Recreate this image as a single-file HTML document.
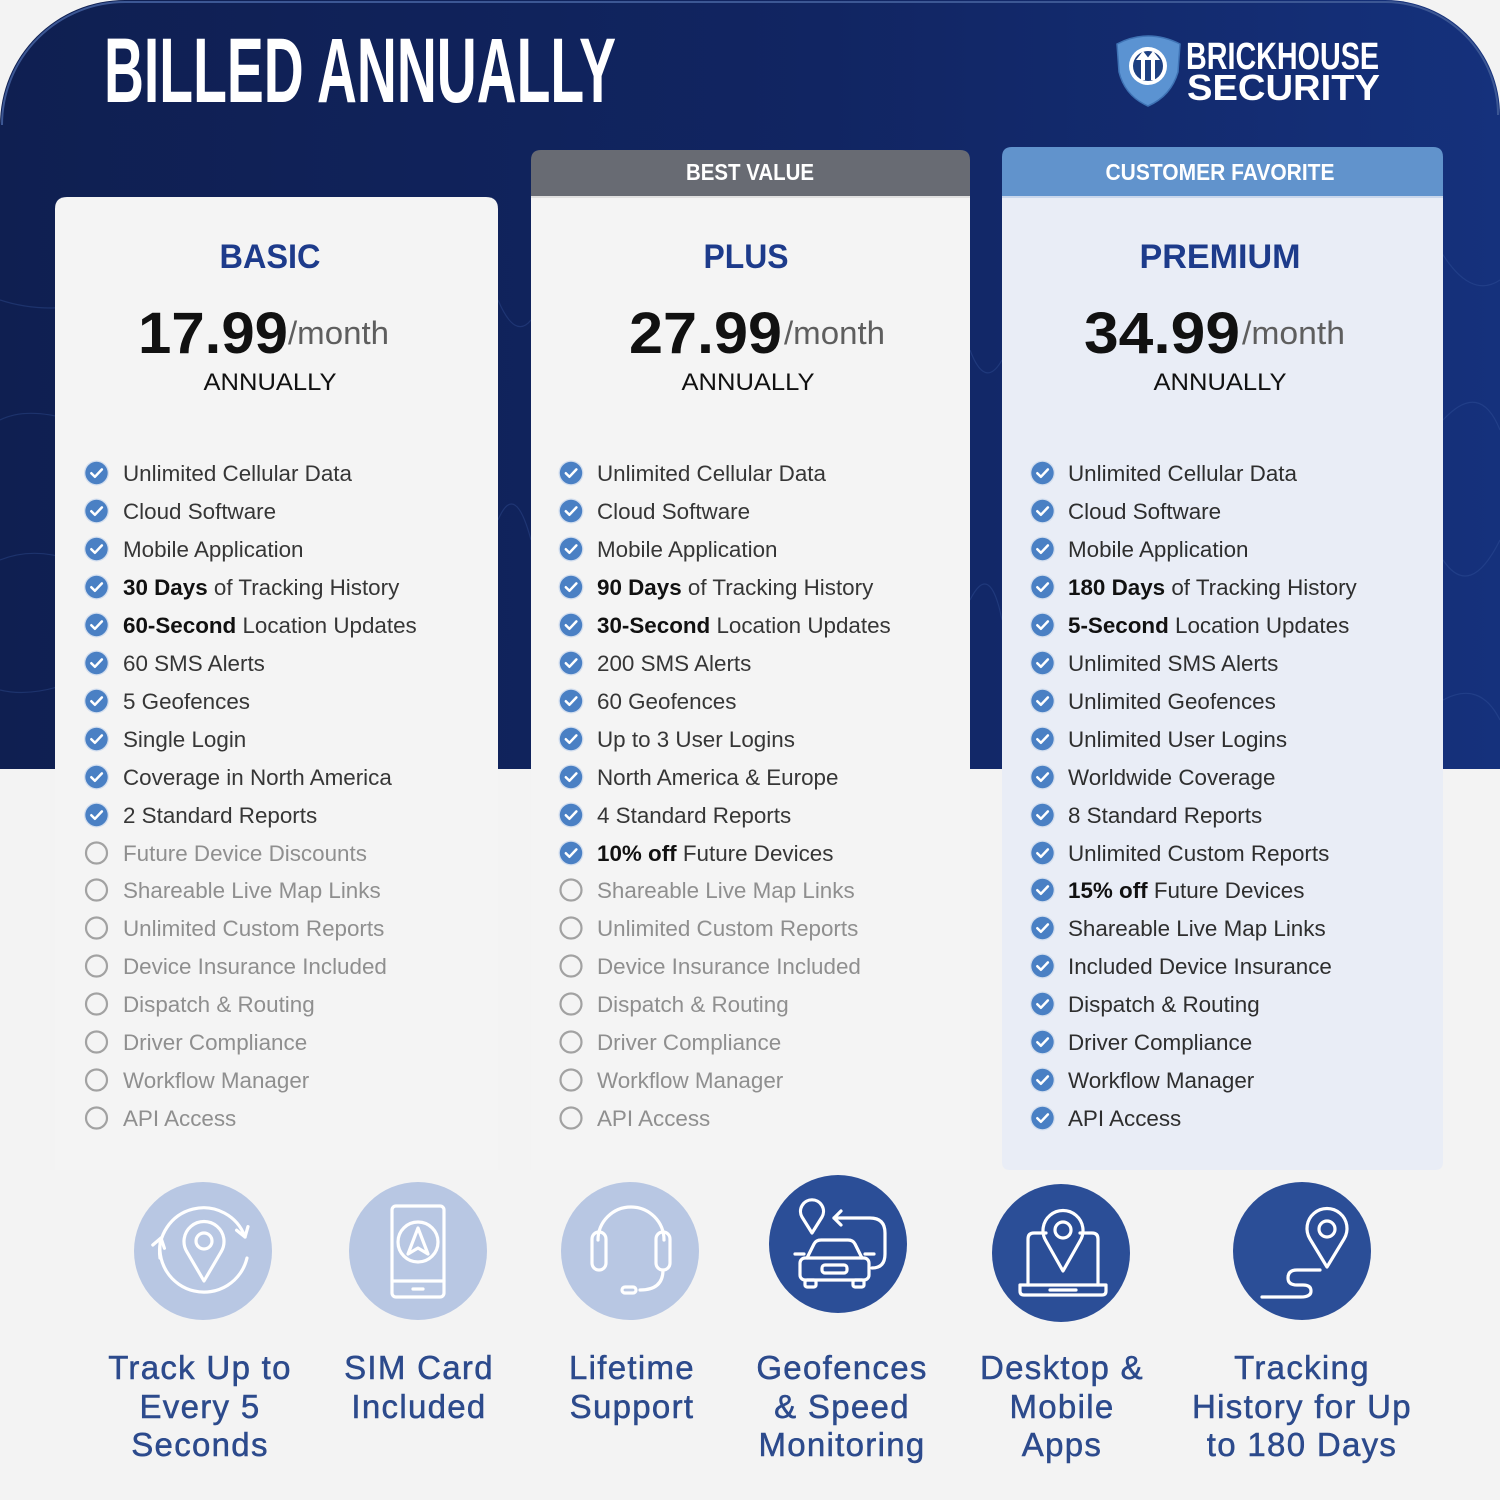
<!DOCTYPE html>
<html><head><meta charset="utf-8"><style>
html,body{margin:0;padding:0;background:#f3f3f3;}
svg{display:block;}
text{font-family:"Liberation Sans",Arial,sans-serif;}
</style></head><body>
<svg width="1500" height="1500" viewBox="0 0 1500 1500" xmlns="http://www.w3.org/2000/svg">
<defs>
<linearGradient id="navy" x1="0" y1="0" x2="1" y2="0">
<stop offset="0" stop-color="#0f1f51"/>
<stop offset="0.55" stop-color="#112562"/>
<stop offset="1" stop-color="#15317c"/>
</linearGradient>
<g id="chk"><circle cx="0" cy="0" r="12.5" fill="#d3deee"/><circle cx="0" cy="0" r="11.2" fill="#4a80c4"/><path d="M-5.2,0.2 L-1.6,3.8 L5.4,-3.6" fill="none" stroke="#fff" stroke-width="2.5" stroke-linecap="round" stroke-linejoin="round"/></g>
<g id="emp"><circle cx="0" cy="0" r="10.5" fill="none" stroke="#a2a2a2" stroke-width="2.2"/></g>
</defs>

<rect width="1500" height="1500" fill="#f3f3f3"/>
<path d="M0,125 A125,125 0 0 1 125,0 L1385,0 A115,115 0 0 1 1500,115 L1500,769 L0,769 Z" fill="url(#navy)"/>
<path d="M2,125 A123,123 0 0 1 125,2 L1385,2 A113,113 0 0 1 1498,115" fill="none" stroke="#3c5794" stroke-width="2"/>
<g fill="none" stroke="#3a5aa0" stroke-width="1.2" opacity="0.35">
<path d="M0,300 Q60,320 140,290 T300,320"/>
<path d="M0,420 Q40,400 120,440 T260,420"/>
<path d="M0,560 Q50,540 110,580 T240,560"/>
<path d="M0,690 Q40,700 100,670 T220,700"/>
<path d="M1440,250 Q1470,300 1500,280"/>
<path d="M1443,420 Q1480,380 1500,430"/>
<path d="M1443,560 Q1470,600 1500,540"/>
<path d="M1443,700 Q1480,680 1500,720"/>
<path d="M498,300 Q515,340 531,320"/>
<path d="M498,520 Q515,480 531,540"/>
<path d="M970,350 Q985,390 1002,360"/>
<path d="M970,600 Q990,560 1002,620"/>
</g>

<!-- Title -->
<text x="104" y="102" font-size="92" font-weight="bold" fill="#ffffff" textLength="512" lengthAdjust="spacingAndGlyphs">BILLED ANNUALLY</text>

<!-- Logo -->
<path d="M1117,44 Q1148,28 1180,44 L1178,72 Q1171,96 1148,106 Q1125,96 1119,72 Z" fill="#5b93d2" stroke="#3f73b5" stroke-width="1.5"/>
<circle cx="1148" cy="66" r="19" fill="#ffffff"/>
<circle cx="1148" cy="66" r="15" fill="#1d3f80"/>
<path d="M1141,80 L1141,60 L1136,60 L1143,51 L1150,60 L1145,60 L1145,80 Z M1151,80 L1151,60 L1146,60 L1153,51 L1160,60 L1155,60 L1155,80 Z" fill="#ffffff"/>
<text x="1186" y="69" font-size="38" font-weight="bold" fill="#ffffff" textLength="193" lengthAdjust="spacingAndGlyphs">BRICKHOUSE</text>
<text x="1187" y="100" font-size="36" font-weight="bold" fill="#ffffff" textLength="193" lengthAdjust="spacingAndGlyphs">SECURITY</text>

<!-- Cards -->
<path d="M55,209 Q55,197 67,197 L486,197 Q498,197 498,209 L498,1170 L55,1170 Z" fill="#f4f4f4"/>
<path d="M531,160 Q531,150 541,150 L960,150 Q970,150 970,160 L970,197 L531,197 Z" fill="#686b73"/>
<rect x="531" y="197" width="439" height="973" fill="#f4f4f4"/>
<line x1="531" y1="197" x2="970" y2="197" stroke="#e0e0e0" stroke-width="2"/>
<path d="M1002,157 Q1002,147 1012,147 L1433,147 Q1443,147 1443,157 L1443,197 L1002,197 Z" fill="#6193cc"/>
<path d="M1002,197 L1443,197 L1443,1162 Q1443,1170 1435,1170 L1010,1170 Q1002,1170 1002,1162 Z" fill="#e9edf6"/>
<line x1="1002" y1="197" x2="1443" y2="197" stroke="#c9d7ec" stroke-width="2"/>

<text x="750" y="180" font-size="23" font-weight="bold" fill="#ffffff" text-anchor="middle" textLength="128" lengthAdjust="spacingAndGlyphs">BEST VALUE</text>
<text x="1220" y="180" font-size="23" font-weight="bold" fill="#ffffff" text-anchor="middle" textLength="229" lengthAdjust="spacingAndGlyphs">CUSTOMER FAVORITE</text>

<!-- Plan names -->
<g font-size="34" font-weight="bold" fill="#1d3b8b" text-anchor="middle">
<text x="270" y="268" textLength="101" lengthAdjust="spacingAndGlyphs">BASIC</text>
<text x="746" y="268" textLength="85" lengthAdjust="spacingAndGlyphs">PLUS</text>
<text x="1220" y="268" textLength="161" lengthAdjust="spacingAndGlyphs">PREMIUM</text>
</g>

<!-- Prices -->
<g font-size="58" font-weight="bold" fill="#111">
<text x="138" y="353" textLength="150" lengthAdjust="spacingAndGlyphs">17.99</text>
<text x="629" y="353" textLength="153" lengthAdjust="spacingAndGlyphs">27.99</text>
<text x="1084" y="353" textLength="156" lengthAdjust="spacingAndGlyphs">34.99</text>
</g>
<g font-size="32" fill="#5e5e5e">
<text x="288" y="344" textLength="101" lengthAdjust="spacingAndGlyphs">/month</text>
<text x="784" y="344" textLength="101" lengthAdjust="spacingAndGlyphs">/month</text>
<text x="1242" y="344" textLength="103" lengthAdjust="spacingAndGlyphs">/month</text>
</g>
<g font-size="24" fill="#111" text-anchor="middle">
<text x="270" y="390" textLength="133" lengthAdjust="spacingAndGlyphs">ANNUALLY</text>
<text x="748" y="390" textLength="133" lengthAdjust="spacingAndGlyphs">ANNUALLY</text>
<text x="1220" y="390" textLength="133" lengthAdjust="spacingAndGlyphs">ANNUALLY</text>
</g>

<!-- Icons for lists -->
<g>
<use href="#chk" x="96.5" y="473"/><use href="#chk" x="96.5" y="511"/><use href="#chk" x="96.5" y="549"/><use href="#chk" x="96.5" y="587"/><use href="#chk" x="96.5" y="625"/><use href="#chk" x="96.5" y="663"/><use href="#chk" x="96.5" y="701"/><use href="#chk" x="96.5" y="739"/><use href="#chk" x="96.5" y="777"/><use href="#chk" x="96.5" y="815"/>
<use href="#emp" x="96.5" y="853"/><use href="#emp" x="96.5" y="890"/><use href="#emp" x="96.5" y="928"/><use href="#emp" x="96.5" y="966"/><use href="#emp" x="96.5" y="1004"/><use href="#emp" x="96.5" y="1042"/><use href="#emp" x="96.5" y="1080"/><use href="#emp" x="96.5" y="1118"/>

<use href="#chk" x="571" y="473"/><use href="#chk" x="571" y="511"/><use href="#chk" x="571" y="549"/><use href="#chk" x="571" y="587"/><use href="#chk" x="571" y="625"/><use href="#chk" x="571" y="663"/><use href="#chk" x="571" y="701"/><use href="#chk" x="571" y="739"/><use href="#chk" x="571" y="777"/><use href="#chk" x="571" y="815"/><use href="#chk" x="571" y="853"/>
<use href="#emp" x="571" y="890"/><use href="#emp" x="571" y="928"/><use href="#emp" x="571" y="966"/><use href="#emp" x="571" y="1004"/><use href="#emp" x="571" y="1042"/><use href="#emp" x="571" y="1080"/><use href="#emp" x="571" y="1118"/>

<use href="#chk" x="1042.5" y="473"/><use href="#chk" x="1042.5" y="511"/><use href="#chk" x="1042.5" y="549"/><use href="#chk" x="1042.5" y="587"/><use href="#chk" x="1042.5" y="625"/><use href="#chk" x="1042.5" y="663"/><use href="#chk" x="1042.5" y="701"/><use href="#chk" x="1042.5" y="739"/><use href="#chk" x="1042.5" y="777"/><use href="#chk" x="1042.5" y="815"/><use href="#chk" x="1042.5" y="853"/><use href="#chk" x="1042.5" y="890"/><use href="#chk" x="1042.5" y="928"/><use href="#chk" x="1042.5" y="966"/><use href="#chk" x="1042.5" y="1004"/><use href="#chk" x="1042.5" y="1042"/><use href="#chk" x="1042.5" y="1080"/><use href="#chk" x="1042.5" y="1118"/>
</g>

<!-- Basic list -->
<g font-size="22.4" fill="#363636">
<text x="123" y="481">Unlimited Cellular Data</text>
<text x="123" y="519">Cloud Software</text>
<text x="123" y="557">Mobile Application</text>
<text x="123" y="595"><tspan font-weight="bold" fill="#111">30 Days</tspan> of Tracking History</text>
<text x="123" y="633"><tspan font-weight="bold" fill="#111">60-Second</tspan> Location Updates</text>
<text x="123" y="671">60 SMS Alerts</text>
<text x="123" y="709">5 Geofences</text>
<text x="123" y="747">Single Login</text>
<text x="123" y="785">Coverage in North America</text>
<text x="123" y="823">2 Standard Reports</text>
</g>
<g font-size="22.4" fill="#8f8f8f">
<text x="123" y="861">Future Device Discounts</text>
<text x="123" y="898">Shareable Live Map Links</text>
<text x="123" y="936">Unlimited Custom Reports</text>
<text x="123" y="974">Device Insurance Included</text>
<text x="123" y="1012">Dispatch &amp; Routing</text>
<text x="123" y="1050">Driver Compliance</text>
<text x="123" y="1088">Workflow Manager</text>
<text x="123" y="1126">API Access</text>
</g>

<!-- Plus list -->
<g font-size="22.4" fill="#363636">
<text x="597" y="481">Unlimited Cellular Data</text>
<text x="597" y="519">Cloud Software</text>
<text x="597" y="557">Mobile Application</text>
<text x="597" y="595"><tspan font-weight="bold" fill="#111">90 Days</tspan> of Tracking History</text>
<text x="597" y="633"><tspan font-weight="bold" fill="#111">30-Second</tspan> Location Updates</text>
<text x="597" y="671">200 SMS Alerts</text>
<text x="597" y="709">60 Geofences</text>
<text x="597" y="747">Up to 3 User Logins</text>
<text x="597" y="785">North America &amp; Europe</text>
<text x="597" y="823">4 Standard Reports</text>
<text x="597" y="861"><tspan font-weight="bold" fill="#111">10% off</tspan> Future Devices</text>
</g>
<g font-size="22.4" fill="#8f8f8f">
<text x="597" y="898">Shareable Live Map Links</text>
<text x="597" y="936">Unlimited Custom Reports</text>
<text x="597" y="974">Device Insurance Included</text>
<text x="597" y="1012">Dispatch &amp; Routing</text>
<text x="597" y="1050">Driver Compliance</text>
<text x="597" y="1088">Workflow Manager</text>
<text x="597" y="1126">API Access</text>
</g>

<!-- Premium list -->
<g font-size="22.4" fill="#2e2e2e">
<text x="1068" y="481">Unlimited Cellular Data</text>
<text x="1068" y="519">Cloud Software</text>
<text x="1068" y="557">Mobile Application</text>
<text x="1068" y="595"><tspan font-weight="bold" fill="#111">180 Days</tspan> of Tracking History</text>
<text x="1068" y="633"><tspan font-weight="bold" fill="#111">5-Second</tspan> Location Updates</text>
<text x="1068" y="671">Unlimited SMS Alerts</text>
<text x="1068" y="709">Unlimited Geofences</text>
<text x="1068" y="747">Unlimited User Logins</text>
<text x="1068" y="785">Worldwide Coverage</text>
<text x="1068" y="823">8 Standard Reports</text>
<text x="1068" y="861">Unlimited Custom Reports</text>
<text x="1068" y="898"><tspan font-weight="bold" fill="#111">15% off</tspan> Future Devices</text>
<text x="1068" y="936">Shareable Live Map Links</text>
<text x="1068" y="974">Included Device Insurance</text>
<text x="1068" y="1012">Dispatch &amp; Routing</text>
<text x="1068" y="1050">Driver Compliance</text>
<text x="1068" y="1088">Workflow Manager</text>
<text x="1068" y="1126">API Access</text>
</g>

<!-- Bottom feature circles -->
<circle cx="203" cy="1251" r="69" fill="#b8c7e3"/>
<circle cx="418" cy="1251" r="69" fill="#b8c7e3"/>
<circle cx="630" cy="1251" r="69" fill="#b8c7e3"/>
<circle cx="838" cy="1244" r="69" fill="#2b4e97"/>
<circle cx="1061" cy="1253" r="69" fill="#2b4e97"/>
<circle cx="1302" cy="1251" r="69" fill="#2b4e97"/>

<g fill="none" stroke="#ffffff" stroke-width="3.2" stroke-linecap="round" stroke-linejoin="round">
<!-- icon 1 -->
<path d="M204,1281 L187,1252 A20,20 0 1 1 221,1252 Z"/>
<circle cx="204" cy="1241" r="8"/>
<path d="M160,1258 A44,44 0 0 1 245,1237"/>
<path d="M248,1226.6 L245,1237 L236.6,1230.2"/>
<path d="M247,1258 A44,44 0 0 1 161,1238"/>
<path d="M164.4,1248.2 L161,1238 L152.8,1245"/>
<!-- icon 2 -->
<rect x="392" y="1206" width="52" height="91" rx="4"/>
<line x1="392" y1="1281" x2="444" y2="1281"/>
<line x1="413" y1="1289" x2="423" y2="1289"/>
<circle cx="418" cy="1242" r="20"/>
<path d="M418,1228 L428,1254 L418,1248 L408,1254 Z"/>
<!-- icon 3 -->
<rect x="592" y="1232" width="14" height="38" rx="7"/>
<rect x="656" y="1232" width="14" height="38" rx="7"/>
<path d="M598,1240 A33,33 0 0 1 664,1240"/>
<path d="M663,1270 Q663,1290 640,1290"/>
<rect x="622" y="1287" width="14" height="6" rx="3"/>
<!-- icon 4 -->
<path d="M812,1233 L802,1217 A11.5,11.5 0 1 1 822,1217 Z"/>
<path d="M834,1218 L870,1218 Q885,1218 885,1233 L885,1254 Q885,1268 872,1268"/>
<path d="M841,1211 L834,1218 L841,1225"/>
<path d="M807,1258 L814,1244 Q816,1240 821,1240 L848,1240 Q853,1240 855,1244 L862,1258"/>
<rect x="800" y="1258" width="69" height="22" rx="5"/>
<rect x="805" y="1280" width="11" height="7" rx="2"/>
<rect x="853" y="1280" width="11" height="7" rx="2"/>
<rect x="822" y="1265" width="25" height="8" rx="3"/>
<line x1="795" y1="1254" x2="804" y2="1254"/>
<line x1="865" y1="1254" x2="874" y2="1254"/>
<!-- icon 5 -->
<path d="M1028,1285 L1028,1239 Q1028,1233 1034,1233 L1046,1233"/>
<path d="M1080,1233 L1092,1233 Q1098,1233 1098,1239 L1098,1285"/>
<path d="M1020,1285 L1106,1285 L1106,1291 Q1106,1295 1102,1295 L1024,1295 Q1020,1295 1020,1291 Z"/>
<line x1="1050" y1="1290" x2="1076" y2="1290"/>
<path d="M1063,1271 L1046,1241 A20,20 0 1 1 1080,1241 Z"/>
<circle cx="1063" cy="1230" r="8"/>
<!-- icon 6 -->
<path d="M1327,1267 L1310,1239 A20,20 0 1 1 1344,1239 Z"/>
<circle cx="1327" cy="1229" r="8"/>
<path d="M1320,1270 L1297,1270 Q1288,1270 1288,1278 Q1288,1285 1297,1285 L1303,1285 Q1311,1285 1311,1291 Q1311,1297 1301,1297 L1262,1297"/>
</g>

<!-- Bottom labels -->
<g font-size="33" fill="#2c4a8c" stroke="#2c4a8c" stroke-width="0.5" text-anchor="middle" letter-spacing="1.3">
<text x="200" y="1379">Track Up to</text>
<text x="200" y="1418">Every 5</text>
<text x="200" y="1456">Seconds</text>
<text x="419" y="1379">SIM Card</text>
<text x="419" y="1418">Included</text>
<text x="632" y="1379">Lifetime</text>
<text x="632" y="1418">Support</text>
<text x="842" y="1379">Geofences</text>
<text x="842" y="1418">&amp; Speed</text>
<text x="842" y="1456">Monitoring</text>
<text x="1062" y="1379">Desktop &amp;</text>
<text x="1062" y="1418">Mobile</text>
<text x="1062" y="1456">Apps</text>
<text x="1302" y="1379">Tracking</text>
<text x="1302" y="1418">History for Up</text>
<text x="1302" y="1456">to 180 Days</text>
</g>
</svg>
</body></html>
